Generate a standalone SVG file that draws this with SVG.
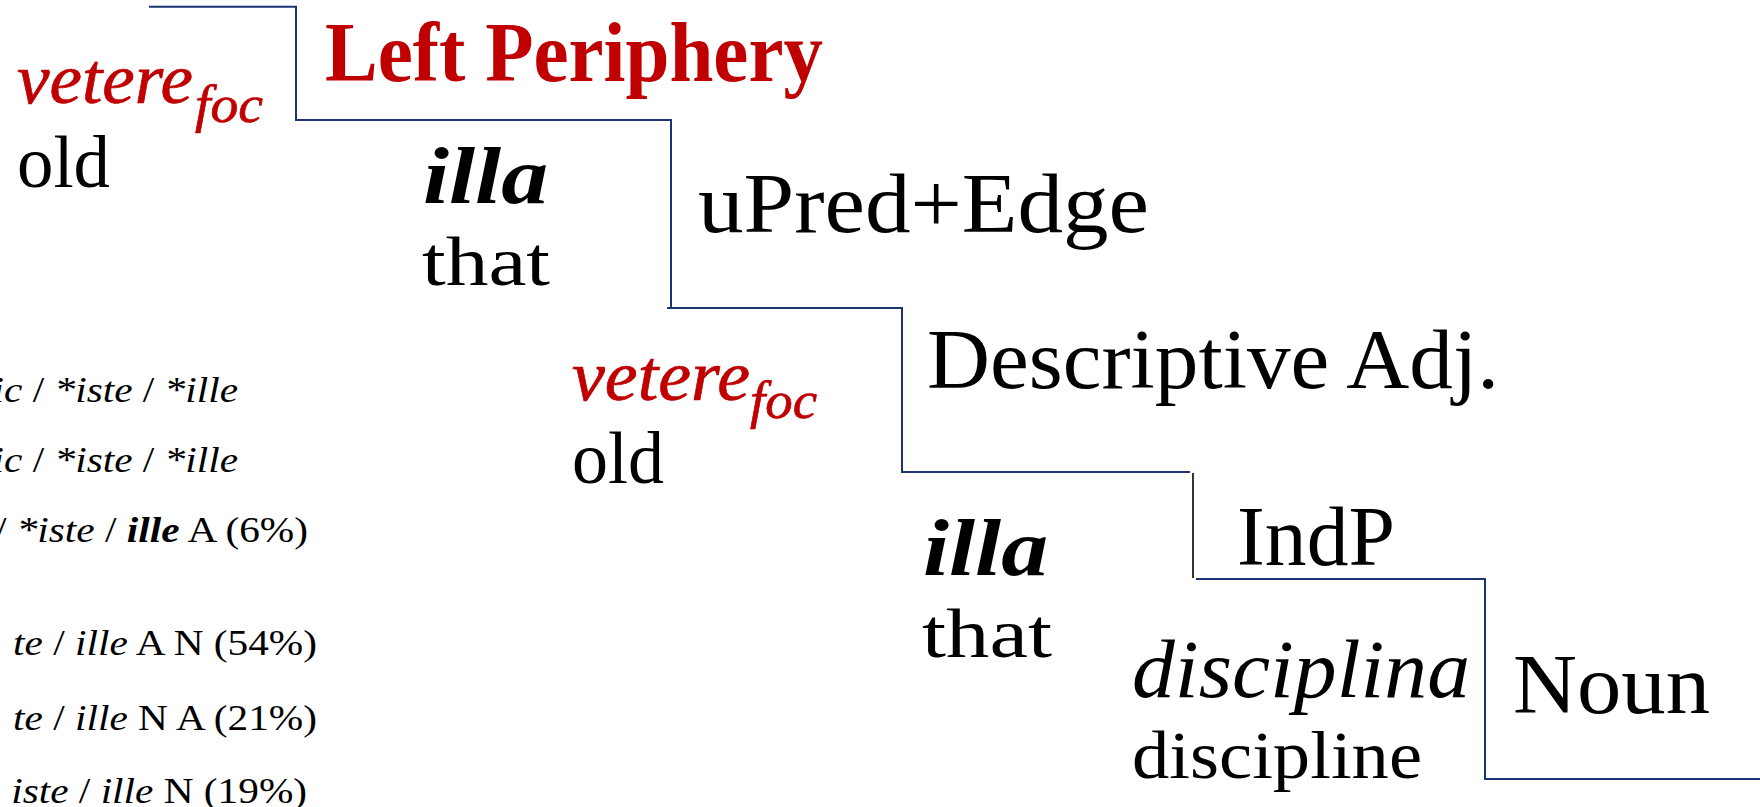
<svg xmlns="http://www.w3.org/2000/svg" width="1760" height="807" viewBox="0 0 1760 807">
<style>
  text { font-family: "Liberation Serif", "Times New Roman", serif; fill: #000; }
  .red { fill: #C00000; }
  .redw { fill: #C00000; stroke: #C00000; stroke-width: 0.7; }
  .it { font-style: italic; }
  .bd { font-weight: bold; }
  .stair { fill: none; stroke: #1c3470; stroke-width: 2; }
  .tick { fill: none; stroke: #000; stroke-width: 1.6; }
  .lc { font-size: 35px; }
</style>
<rect x="0" y="0" width="1760" height="807" fill="#fff"/>

<g id="connectors">
  <polyline class="stair" points="149,6.7 296,6.7 296,120 671,120 671,308 667,308 902,308 902,472 1190,472"/>
  <line class="tick" x1="1193" y1="473" x2="1193" y2="578"/>
  <polyline class="stair" points="1196,579 1485,579 1485,779 1760,779"/>
</g>

<g id="label-left-periphery">
  <text class="red bd" x="325" y="81" font-size="84" textLength="498" lengthAdjust="spacingAndGlyphs">Left Periphery</text>
</g>
<g id="label-upred-edge">
  <text x="698" y="232" font-size="85" textLength="451" lengthAdjust="spacingAndGlyphs">uPred+Edge</text>
</g>
<g id="label-descriptive-adj">
  <text x="927" y="388" font-size="85" textLength="572" lengthAdjust="spacingAndGlyphs">Descriptive Adj.</text>
</g>
<g id="label-indp">
  <text x="1237" y="565" font-size="84" textLength="158" lengthAdjust="spacingAndGlyphs">IndP</text>
</g>
<g id="label-noun">
  <text x="1513" y="713" font-size="85" textLength="197" lengthAdjust="spacingAndGlyphs">Noun</text>
</g>

<g id="word-vetere-1">
  <text class="redw it" x="17" y="103" font-size="71" textLength="176" lengthAdjust="spacingAndGlyphs">vetere</text>
  <text class="redw it" x="195" y="122" font-size="52" textLength="68" lengthAdjust="spacingAndGlyphs">foc</text>
  <text x="17" y="187" font-size="75" textLength="93" lengthAdjust="spacingAndGlyphs">old</text>
</g>
<g id="word-illa-1">
  <text class="it bd" x="423" y="203" font-size="80" textLength="125" lengthAdjust="spacingAndGlyphs">illa</text>
  <text x="422" y="285" font-size="69" textLength="128" lengthAdjust="spacingAndGlyphs">that</text>
</g>
<g id="word-vetere-2">
  <text class="redw it" x="572" y="400" font-size="71" textLength="178" lengthAdjust="spacingAndGlyphs">vetere</text>
  <text class="redw it" x="750" y="418" font-size="52" textLength="67" lengthAdjust="spacingAndGlyphs">foc</text>
  <text x="572" y="483" font-size="73" textLength="92" lengthAdjust="spacingAndGlyphs">old</text>
</g>
<g id="word-illa-2">
  <text class="it bd" x="923" y="575" font-size="80" textLength="125" lengthAdjust="spacingAndGlyphs">illa</text>
  <text x="922" y="657" font-size="70" textLength="130" lengthAdjust="spacingAndGlyphs">that</text>
</g>
<g id="word-disciplina">
  <text class="it" x="1132" y="697" font-size="82" textLength="338" lengthAdjust="spacingAndGlyphs">disciplina</text>
  <text x="1132" y="778" font-size="67" textLength="290" lengthAdjust="spacingAndGlyphs">discipline</text>
</g>

<g id="left-column" transform="scale(1.18 1)">
  <text class="lc" x="201.7" y="402" text-anchor="end"><tspan class="it">ic</tspan> / <tspan class="it">*iste</tspan> / <tspan class="it">*ille</tspan></text>
  <text class="lc" x="201.7" y="472" text-anchor="end"><tspan class="it">ic</tspan> / <tspan class="it">*iste</tspan> / <tspan class="it">*ille</tspan></text>
  <text class="lc" x="261" y="542" text-anchor="end">/ <tspan class="it">*iste</tspan> / <tspan class="it bd">ille</tspan> A (6%)</text>
  <text class="lc" x="268.6" y="655" text-anchor="end"><tspan class="it">te</tspan> / <tspan class="it">ille</tspan> A N (54%)</text>
  <text class="lc" x="268.6" y="730" text-anchor="end"><tspan class="it">te</tspan> / <tspan class="it">ille</tspan> N A (21%)</text>
  <text class="lc" x="260.2" y="803" text-anchor="end"><tspan class="it">iste</tspan> / <tspan class="it">ille</tspan> N (19%)</text>
</g>
</svg>
